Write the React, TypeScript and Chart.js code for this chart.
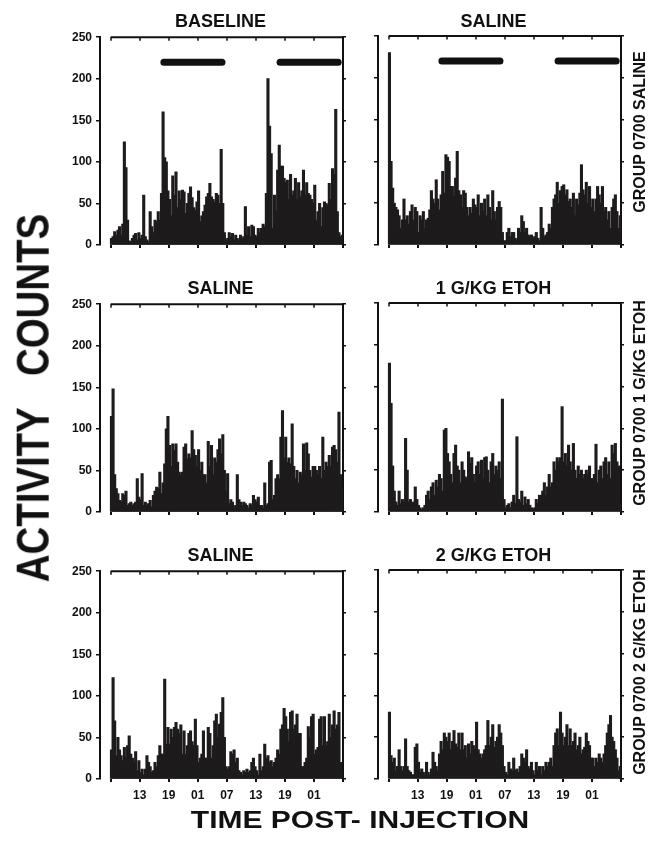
import { useEffect, useRef } from 'react';
import { Chart, registerables } from 'chart.js';

Chart.register(...registerables);

// ---------- DATA (activity counts per 20-min bin, 48 h after 07:00 injection) ----------
const BASELINE_COUNTS = [
  8, 10, 16, 12, 18, 22, 12, 25, 124, 93, 30, 5, 4, 8, 12, 14, 6, 15,
  8, 12, 60, 10, 6, 4, 40, 22, 15, 30, 28, 40, 30, 62, 160, 105, 100, 65,
  55, 35, 83, 60, 88, 45, 65, 55, 66, 64, 38, 50, 62, 70, 57, 45, 42, 52,
  65, 28, 35, 40, 48, 58, 62, 74, 58, 55, 52, 62, 60, 50, 115, 50, 15, 5,
  8, 15, 10, 14, 6, 12, 8, 5, 12, 8, 10, 46, 12, 22, 10, 24, 22, 12,
  10, 20, 15, 20, 25, 22, 62, 200, 143, 110, 20, 60, 40, 90, 120, 95, 95, 80,
  75, 78, 55, 85, 60, 65, 80, 55, 75, 58, 65, 90, 60, 75, 62, 60, 55, 50,
  72, 30, 40, 50, 22, 45, 52, 50, 48, 74, 55, 92, 85, 163, 40, 15, 10, 12,
];

const SALINE_A_COUNTS = [
  230, 100, 68, 50, 45, 42, 35, 20, 30, 55, 30, 35, 25, 40, 48, 30, 45, 40,
  15, 35, 30, 40, 20, 30, 32, 42, 65, 55, 50, 78, 55, 42, 60, 88, 62, 108,
  105, 100, 70, 70, 58, 80, 112, 65, 60, 45, 65, 62, 45, 35, 45, 38, 55, 48,
  45, 60, 35, 50, 40, 55, 35, 60, 45, 30, 65, 40, 30, 45, 52, 45, 15, 5,
  5, 15, 20, 10, 15, 15, 8, 5, 20, 15, 35, 28, 15, 20, 12, 10, 12, 8,
  10, 15, 8, 5, 45, 20, 10, 12, 15, 25, 20, 45, 55, 60, 75, 50, 65, 70,
  72, 60, 66, 52, 55, 45, 62, 35, 55, 48, 62, 96, 66, 60, 75, 50, 70, 45,
  55, 40, 55, 70, 60, 50, 70, 40, 45, 30, 40, 20, 45, 55, 60, 40, 20, 35,
];

const SALINE_B_COUNTS = [
  115, 148, 45, 28, 22, 14, 12, 22, 20, 25, 8, 10, 12, 8, 10, 12, 40, 18,
  15, 46, 8, 12, 8, 10, 14, 6, 20, 25, 30, 28, 48, 22, 35, 58, 100, 115,
  80, 55, 82, 74, 82, 60, 48, 45, 48, 78, 82, 64, 70, 65, 98, 75, 68, 55,
  75, 50, 60, 45, 45, 35, 85, 55, 80, 45, 65, 60, 75, 88, 70, 93, 50, 25,
  46, 10, 15, 12, 5, 8, 45, 15, 12, 8, 12, 10, 8, 5, 10, 8, 20, 15,
  12, 18, 8, 8, 5, 35, 8, 10, 60, 62, 15, 20, 40, 45, 40, 90, 122, 65,
  90, 60, 65, 58, 106, 55, 40, 50, 35, 48, 45, 82, 50, 83, 70, 50, 42, 55,
  55, 50, 45, 55, 40, 90, 50, 60, 55, 68, 55, 78, 80, 75, 60, 120, 45, 30,
];

const ETOH_1G_COUNTS = [
  178, 130, 55, 25, 12, 8, 25, 10, 15, 12, 88, 50, 12, 15, 10, 12, 30, 15,
  8, 5, 3, 5, 8, 20, 25, 15, 30, 35, 20, 38, 30, 45, 40, 25, 98, 100,
  70, 60, 45, 35, 70, 80, 55, 50, 35, 60, 50, 42, 40, 72, 58, 65, 45, 35,
  55, 60, 45, 62, 40, 65, 66, 50, 35, 60, 70, 45, 55, 50, 60, 40, 135, 15,
  5, 8, 10, 5, 12, 20, 10, 90, 15, 12, 25, 8, 18, 10, 15, 8, 5, 3,
  5, 15, 10, 20, 20, 25, 35, 20, 30, 45, 30, 35, 60, 50, 65, 60, 65, 126,
  60, 70, 55, 80, 60, 50, 82, 50, 40, 55, 45, 50, 40, 45, 50, 45, 55, 40,
  40, 45, 81, 35, 50, 55, 40, 60, 65, 45, 60, 40, 80, 70, 82, 60, 55, 10,
];

const SALINE_C_COUNTS = [
  35, 122, 70, 28, 50, 35, 28, 22, 38, 25, 40, 52, 30, 25, 20, 33, 10, 22,
  8, 12, 5, 12, 28, 20, 15, 8, 10, 20, 15, 28, 40, 30, 30, 120, 42, 62,
  42, 60, 50, 62, 68, 60, 55, 65, 30, 58, 30, 40, 55, 58, 45, 40, 72, 40,
  20, 25, 30, 58, 25, 25, 62, 55, 25, 40, 70, 78, 50, 66, 80, 98, 50, 15,
  12, 15, 33, 30, 35, 20, 25, 10, 8, 5, 10, 8, 12, 8, 10, 20, 25, 15,
  10, 5, 30, 10, 15, 42, 25, 28, 20, 22, 15, 20, 25, 35, 30, 60, 65, 85,
  75, 60, 45, 80, 82, 60, 65, 78, 55, 55, 15, 15, 20, 25, 63, 50, 75, 78,
  30, 35, 38, 72, 75, 40, 75, 40, 45, 78, 50, 65, 82, 60, 65, 80, 20, 10,
];

const ETOH_2G_COUNTS = [
  80, 28, 20, 25, 10, 15, 35, 15, 10, 15, 48, 15, 10, 8, 5, 5, 38, 42,
  20, 8, 12, 8, 5, 20, 8, 5, 12, 32, 20, 15, 10, 30, 45, 35, 55, 50,
  45, 55, 35, 45, 58, 42, 38, 55, 35, 55, 35, 40, 25, 42, 30, 45, 40, 35,
  68, 35, 30, 25, 30, 35, 40, 70, 40, 50, 65, 38, 45, 50, 65, 55, 40, 15,
  8, 5, 20, 12, 10, 25, 10, 12, 8, 15, 30, 25, 20, 35, 15, 12, 20, 10,
  5, 20, 10, 15, 5, 15, 10, 20, 15, 20, 25, 15, 40, 55, 60, 40, 80, 55,
  40, 50, 65, 40, 60, 40, 45, 55, 35, 40, 50, 30, 35, 38, 55, 45, 40, 25,
  25, 15, 25, 20, 30, 25, 20, 30, 40, 55, 65, 76, 50, 45, 35, 25, 10, 15,
];

const BIN_HOURS = 1 / 3;
const TICK_HOURS = [0, 6, 12, 18, 24, 30, 36, 42, 48];
const CLOCK_LABELS = ['', '13', '19', '01', '07', '13', '19', '01', ''];
const Y_TICKS_STEP = 50;
const Y_MAX = 250;
const DARK_PERIODS = [
  [11, 23],
  [35, 47],
];
const DARK_LEVEL = 220;

const PANEL_TITLES = ['BASELINE', 'SALINE', 'SALINE', '1 G/KG ETOH', 'SALINE', '2 G/KG ETOH'];
const GROUP_LABELS = ['GROUP 0700 SALINE', 'GROUP 0700 1 G/KG ETOH', 'GROUP 0700 2 G/KG ETOH'];
const PANEL_VALUES = [
  BASELINE_COUNTS,
  SALINE_A_COUNTS,
  SALINE_B_COUNTS,
  ETOH_1G_COUNTS,
  SALINE_C_COUNTS,
  ETOH_2G_COUNTS,
];

// ---------- LAYOUT ----------
const FONT = "'Liberation Sans', Arial, Helvetica, sans-serif";
const INK = '#111111';
const BAR_INK = '#1d1b1c';
const X_MIN = -2.2;
const X_MAX = 48;
const COL_LEFT = [100, 378];
const PLOT_W = 243;
const ROW_TOP = [36, 303, 570];
const PLOT_H = 209;
const PAD_TOP = 10;
const X_AXIS_H = 30;
const Y2_W = 12;
const GROUP_Y = [132, 403, 672];
const TITLE_DX = [-1, -6];

const topFramePlugin = {
  id: 'topFrame',
  afterDatasetsDraw(chart: any) {
    const { ctx, chartArea, scales } = chart;
    const xs = scales.x;
    const y = chartArea.top;
    ctx.save();
    ctx.strokeStyle = INK;
    ctx.lineWidth = 2;
    ctx.beginPath();
    ctx.moveTo(xs.getPixelForValue(TICK_HOURS[0]), y);
    ctx.lineTo(xs.getPixelForValue(TICK_HOURS[TICK_HOURS.length - 1]), y);
    ctx.stroke();
    ctx.lineWidth = 1.5;
    ctx.beginPath();
    TICK_HOURS.forEach((h) => {
      const px = Math.round(xs.getPixelForValue(h));
      ctx.moveTo(px, y);
      ctx.lineTo(px, y + 3.5);
    });
    ctx.stroke();
    ctx.restore();
  },
};

function Panel({ index }: { index: number }) {
  const ref = useRef<HTMLCanvasElement>(null);
  const row = Math.floor(index / 2);
  const col = index % 2;
  const yW = col === 0 ? 60 : 12;
  const left = COL_LEFT[col] - yW;
  const top = ROW_TOP[row] - PAD_TOP;
  const width = yW + PLOT_W + Y2_W;
  const height = PAD_TOP + PLOT_H + X_AXIS_H;

  useEffect(() => {
    const canvas = ref.current;
    if (!canvas) return;
    const values = PANEL_VALUES[index];
    const datasets: any[] = [
      {
        type: 'bar',
        data: values.map((v, i) => ({ x: (i + 0.5) * BIN_HOURS, y: v })),
        backgroundColor: BAR_INK,
        borderWidth: 0,
        barThickness: 2.3,
        inflateAmount: 0.4,
        order: 2,
      },
    ];
    if (row === 0) {
      DARK_PERIODS.forEach(([a, b]) => {
        datasets.push({
          type: 'line',
          data: [
            { x: a, y: DARK_LEVEL },
            { x: b, y: DARK_LEVEL },
          ],
          borderColor: INK,
          borderWidth: 7,
          borderCapStyle: 'round',
          pointRadius: 0,
          order: 1,
        });
      });
    }
    const tickFont = { family: FONT, size: 12, weight: 'bold' as const };
    const chart = new Chart(canvas, {
      type: 'bar',
      data: { datasets },
      options: {
        responsive: false,
        animation: false,
        devicePixelRatio: 1,
        events: [],
        layout: { padding: { top: PAD_TOP, left: 0, right: 0, bottom: 0 } },
        plugins: { legend: { display: false }, tooltip: { enabled: false }, title: { display: false } },
        scales: {
          x: {
            type: 'linear',
            offset: false,
            min: X_MIN,
            max: X_MAX,
            afterBuildTicks: (s: any) => {
              s.ticks = TICK_HOURS.map((v) => ({ value: v }));
            },
            afterFit: (s: any) => {
              s.height = X_AXIS_H;
            },
            border: { display: false },
            grid: { offset: false, drawOnChartArea: false, drawTicks: true, tickLength: 3, lineWidth: 2, color: INK },
            ticks: {
              display: row === 2,
              autoSkip: false,
              maxRotation: 0,
              padding: 6,
              color: INK,
              font: tickFont,
              callback: (v: any) => CLOCK_LABELS[TICK_HOURS.indexOf(Number(v))] ?? '',
            },
          },
          y: {
            position: 'left',
            min: 0,
            max: Y_MAX,
            afterFit: (s: any) => {
              s.width = yW;
            },
            border: { display: true, width: 2, color: INK },
            grid: { drawOnChartArea: false, drawTicks: true, tickLength: 4, lineWidth: 1.5, color: INK },
            ticks: { display: col === 0, stepSize: Y_TICKS_STEP, padding: 4, color: INK, font: tickFont },
          },
          y2: {
            position: 'right',
            min: 0,
            max: Y_MAX,
            afterFit: (s: any) => {
              s.width = Y2_W;
            },
            border: { display: true, width: 2, color: INK },
            grid: { drawOnChartArea: false, drawTicks: true, tickLength: 3, lineWidth: 1.5, color: INK },
            ticks: { display: false, stepSize: Y_TICKS_STEP },
          },
        },
      } as any,
      plugins: [topFramePlugin],
    });
    return () => chart.destroy();
  }, [index]);

  return (
    <canvas
      ref={ref}
      width={width}
      height={height}
      style={{ position: 'absolute', left, top, width, height }}
    />
  );
}

function Label({
  text,
  x,
  y,
  size,
  rotate = 0,
  sx = 1,
  sy = 1,
}: {
  text: string;
  x: number;
  y: number;
  size: number;
  rotate?: number;
  sx?: number;
  sy?: number;
}) {
  return (
    <div
      style={{
        position: 'absolute',
        left: x,
        top: y,
        transform: `translate(-50%, -50%) rotate(${rotate}deg) scale(${sx}, ${sy})`,
        font: `bold ${size}px ${FONT}`,
        lineHeight: 1,
        whiteSpace: 'pre',
        color: INK,
      }}
    >
      {text}
    </div>
  );
}

export default function App() {
  return (
    <div
      style={{
        position: 'absolute',
        left: 0,
        top: 0,
        width: 649,
        height: 847,
        background: '#ffffff',
        overflow: 'hidden',
      }}
    >
      {PANEL_VALUES.map((_, i) => (
        <Panel key={i} index={i} />
      ))}
      {PANEL_TITLES.map((t, i) => {
        const row = Math.floor(i / 2);
        const col = i % 2;
        return (
          <Label
            key={'t' + i}
            text={t}
            x={COL_LEFT[col] + PLOT_W / 2 + TITLE_DX[col]}
            y={ROW_TOP[row] - 14.6}
            size={18}
          />
        );
      })}
      {GROUP_LABELS.map((g, r) => (
        <Label key={'g' + r} text={g} x={640} y={GROUP_Y[r]} size={16} rotate={-90} />
      ))}
      <Label text={'ACTIVITY   COUNTS'} x={32.5} y={398} size={40} rotate={-90} sx={0.96} sy={1.15} />
      <Label text={'TIME POST- INJECTION'} x={360} y={820} size={24} sx={1.25} />
    </div>
  );
}
